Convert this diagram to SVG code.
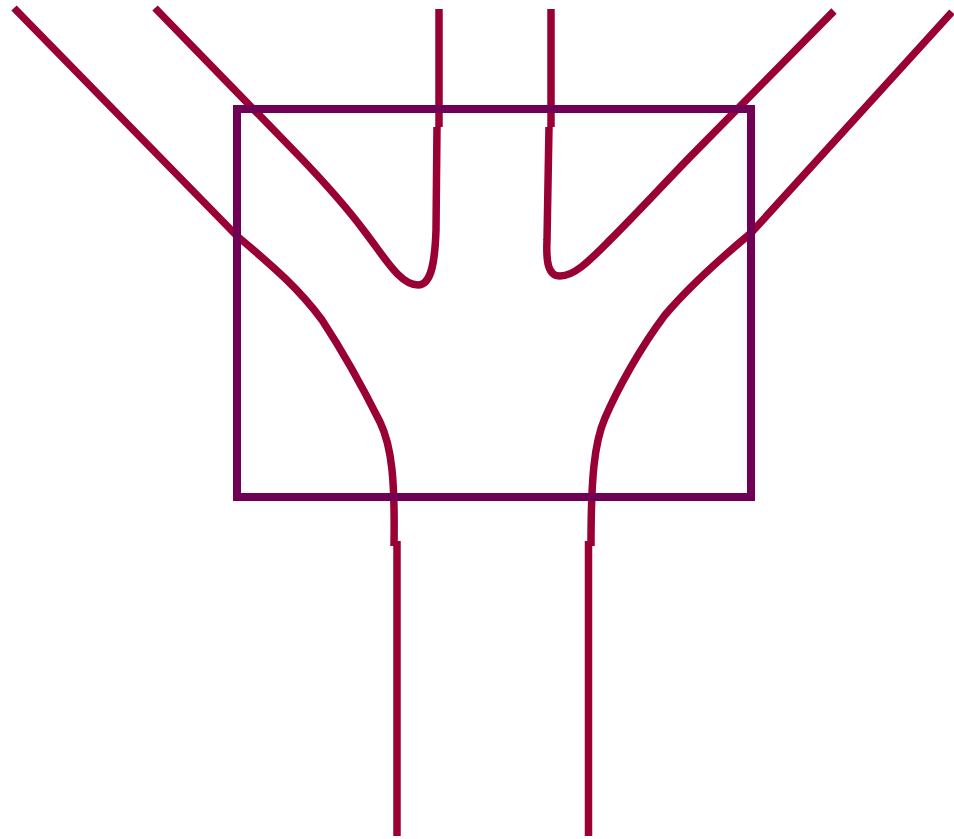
<svg xmlns="http://www.w3.org/2000/svg" width="954" height="839" viewBox="0 0 954 839">
<style>
.w{fill:none;stroke:#990033;stroke-width:7.5;stroke-linecap:butt;stroke-linejoin:round}
.box{fill:none;stroke:#700055;stroke-width:8}
</style>
<rect width="954" height="839" fill="#ffffff"/>
<g id="connectors">
<path class="w" d="M14,8 L237,236 C275,268 300,290 322,320 C345,355 368,398 380,422 C392,447 395,480 394,546"/>
<path class="w" d="M155,8 L300,157 C322,180 345,205 365,232 C385,258 400,285 418,285 C432,285 435,260 436,230 L437,127"/>
<path class="w" d="M834,11 L690,157 C660,188 635,215 610,240 C590,260 575,276 560,276 C548,276 546,262 547,240 L549,127"/>
<path class="w" d="M952,12 L751,233 C715,263 688,288 665,315 C640,348 617,390 605,418 C594,443 591,480 591,546"/>
<path class="w" d="M439,9 L439,127"/>
<path class="w" d="M551,9 L551,127"/>
<path class="w" d="M397,541 L397,836"/>
<path class="w" d="M588.5,541 L588.5,836"/>
</g>
<g id="box">
<rect class="box" x="237" y="109" width="514" height="388"/>
</g>
</svg>
